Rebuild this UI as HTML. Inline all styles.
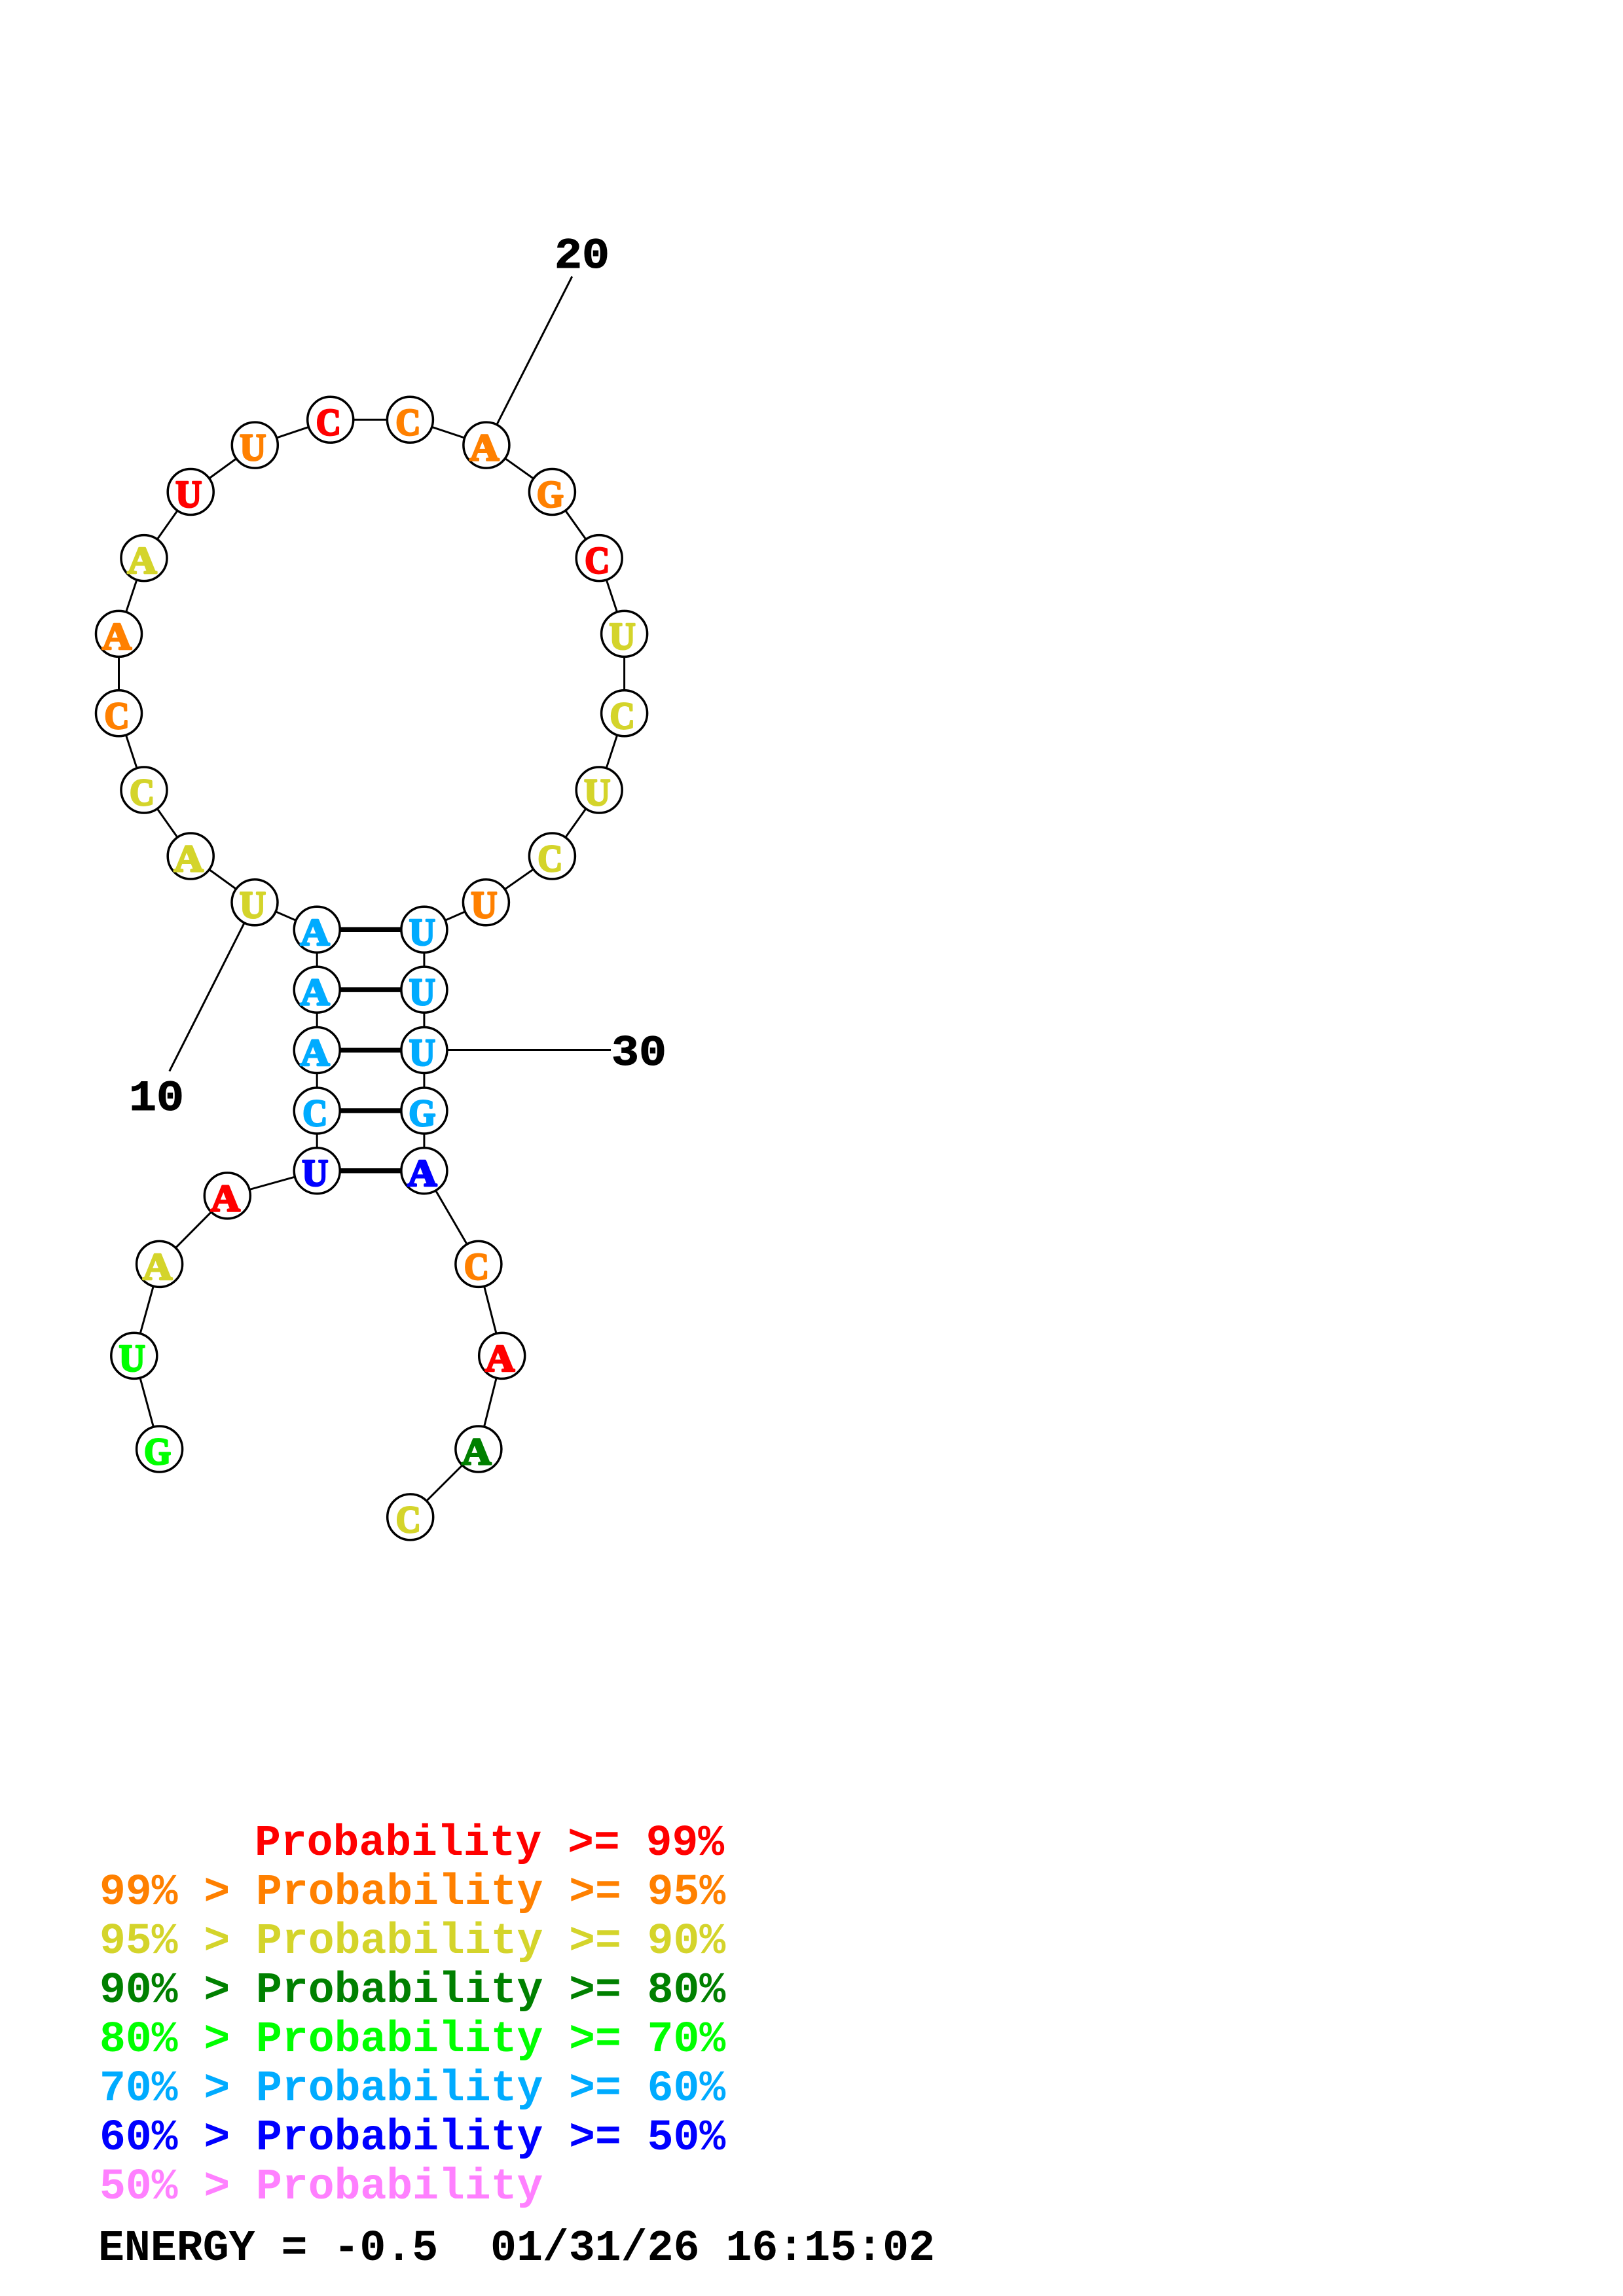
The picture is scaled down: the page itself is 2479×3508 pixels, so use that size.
<!DOCTYPE html>
<html><head><meta charset="utf-8"><style>
html,body{margin:0;padding:0;background:#fff}
svg{display:block}
.b text{font-family:"Liberation Serif",serif;font-weight:bold;font-size:58px;text-anchor:middle;stroke-width:3px;stroke-linejoin:round}
.m text{font-family:"Liberation Mono",monospace;font-weight:bold;font-size:66.4px;stroke:none}
.l text{font-family:"Liberation Mono",monospace;font-weight:bold;font-size:66px;stroke:#000;stroke-width:1px}
.r{fill:#f00;stroke:#f00}.o{fill:#ff8000;stroke:#ff8000}.y{fill:#d4d42b;stroke:#d4d42b}.g{fill:#008000;stroke:#008000}.n{fill:#0f0;stroke:#0f0}.c{fill:#00abff;stroke:#00abff}.u{fill:#00f;stroke:#00f}.p{fill:#ff80ff;stroke:#ff80ff}
</style></head><body>
<svg xmlns="http://www.w3.org/2000/svg" width="2479" height="3508" viewBox="0 0 2479 3508">
<g fill="none" stroke="#000" stroke-width="3">
<polyline points="243.6,2214 204.8,2071.4 243.6,1931.4 347.3,1826.9 484.2,1788.7 484.2,1697 484.2,1604.5 484.2,1512.1 484.2,1420.3 389,1378.8 291.2,1308 220,1207 181.5,1089.8 181.5,968.4 220,852.6 291.2,751.5 389.3,680.1 504.7,641.3 626.4,641.3 742.9,680.1 843.4,751.5 915.2,852.6 953.6,968.4 953.6,1089.8 915.2,1207 843.4,1308 742.4,1378.8 647.9,1420.3 647.9,1512.1 647.9,1604.5 647.9,1697 647.9,1788.7 730.9,1931.4 766.7,2071.4 730.9,2214 626.7,2317.9"/>
<line x1="389" y1="1378.8" x2="258.8" y2="1636.7"/>
<line x1="742.9" y1="680.1" x2="873.8" y2="422.4"/>
<line x1="647.9" y1="1604.5" x2="933" y2="1604.5"/>
</g>
<g stroke="#000" stroke-width="7.5">
<line x1="484.2" y1="1420.3" x2="647.9" y2="1420.3"/>
<line x1="484.2" y1="1512.1" x2="647.9" y2="1512.1"/>
<line x1="484.2" y1="1604.5" x2="647.9" y2="1604.5"/>
<line x1="484.2" y1="1697" x2="647.9" y2="1697"/>
<line x1="484.2" y1="1788.7" x2="647.9" y2="1788.7"/>
</g>
<g fill="#fff" stroke="#000" stroke-width="3.5">
<circle cx="243.6" cy="2214" r="35"/><circle cx="204.8" cy="2071.4" r="35"/><circle cx="243.6" cy="1931.4" r="35"/><circle cx="347.3" cy="1826.9" r="35"/>
<circle cx="484.2" cy="1788.7" r="35"/><circle cx="484.2" cy="1697" r="35"/><circle cx="484.2" cy="1604.5" r="35"/><circle cx="484.2" cy="1512.1" r="35"/><circle cx="484.2" cy="1420.3" r="35"/>
<circle cx="389" cy="1378.8" r="35"/><circle cx="291.2" cy="1308" r="35"/><circle cx="220" cy="1207" r="35"/><circle cx="181.5" cy="1089.8" r="35"/><circle cx="181.5" cy="968.4" r="35"/><circle cx="220" cy="852.6" r="35"/><circle cx="291.2" cy="751.5" r="35"/><circle cx="389.3" cy="680.1" r="35"/><circle cx="504.7" cy="641.3" r="35"/><circle cx="626.4" cy="641.3" r="35"/><circle cx="742.9" cy="680.1" r="35"/><circle cx="843.4" cy="751.5" r="35"/><circle cx="915.2" cy="852.6" r="35"/><circle cx="953.6" cy="968.4" r="35"/><circle cx="953.6" cy="1089.8" r="35"/><circle cx="915.2" cy="1207" r="35"/><circle cx="843.4" cy="1308" r="35"/><circle cx="742.4" cy="1378.8" r="35"/>
<circle cx="647.9" cy="1420.3" r="35"/><circle cx="647.9" cy="1512.1" r="35"/><circle cx="647.9" cy="1604.5" r="35"/><circle cx="647.9" cy="1697" r="35"/><circle cx="647.9" cy="1788.7" r="35"/>
<circle cx="730.9" cy="1931.4" r="35"/><circle cx="766.7" cy="2071.4" r="35"/><circle cx="730.9" cy="2214" r="35"/><circle cx="626.7" cy="2317.9" r="35"/>
</g>
<g class="b" transform="translate(-1,-1.5)">
<text class="n" x="241.6" y="2238.5" textLength="41" lengthAdjust="spacingAndGlyphs">G</text>
<text class="n" x="202.8" y="2095.9" textLength="40" lengthAdjust="spacingAndGlyphs">U</text>
<text class="y" x="241.6" y="1955.9" textLength="45" lengthAdjust="spacingAndGlyphs">A</text>
<text class="r" x="345.3" y="1851.4" textLength="45" lengthAdjust="spacingAndGlyphs">A</text>
<text class="u" x="482.2" y="1813.2" textLength="40" lengthAdjust="spacingAndGlyphs">U</text>
<text class="c" x="482.2" y="1721.5" textLength="38" lengthAdjust="spacingAndGlyphs">C</text>
<text class="c" x="482.2" y="1629" textLength="45" lengthAdjust="spacingAndGlyphs">A</text>
<text class="c" x="482.2" y="1536.6" textLength="45" lengthAdjust="spacingAndGlyphs">A</text>
<text class="c" x="482.2" y="1444.8" textLength="45" lengthAdjust="spacingAndGlyphs">A</text>
<text class="y" x="387" y="1403.3" textLength="40" lengthAdjust="spacingAndGlyphs">U</text>
<text class="y" x="289.2" y="1332.5" textLength="45" lengthAdjust="spacingAndGlyphs">A</text>
<text class="y" x="218" y="1231.5" textLength="38" lengthAdjust="spacingAndGlyphs">C</text>
<text class="o" x="179.5" y="1114.3" textLength="38" lengthAdjust="spacingAndGlyphs">C</text>
<text class="o" x="179.5" y="992.9" textLength="45" lengthAdjust="spacingAndGlyphs">A</text>
<text class="y" x="218" y="877.1" textLength="45" lengthAdjust="spacingAndGlyphs">A</text>
<text class="r" x="289.2" y="776" textLength="40" lengthAdjust="spacingAndGlyphs">U</text>
<text class="o" x="387.3" y="704.6" textLength="40" lengthAdjust="spacingAndGlyphs">U</text>
<text class="r" x="502.7" y="665.8" textLength="38" lengthAdjust="spacingAndGlyphs">C</text>
<text class="o" x="624.4" y="665.8" textLength="38" lengthAdjust="spacingAndGlyphs">C</text>
<text class="o" x="740.9" y="704.6" textLength="45" lengthAdjust="spacingAndGlyphs">A</text>
<text class="o" x="841.4" y="776" textLength="41" lengthAdjust="spacingAndGlyphs">G</text>
<text class="r" x="913.2" y="877.1" textLength="38" lengthAdjust="spacingAndGlyphs">C</text>
<text class="y" x="951.6" y="992.9" textLength="40" lengthAdjust="spacingAndGlyphs">U</text>
<text class="y" x="951.6" y="1114.3" textLength="38" lengthAdjust="spacingAndGlyphs">C</text>
<text class="y" x="913.2" y="1231.5" textLength="40" lengthAdjust="spacingAndGlyphs">U</text>
<text class="y" x="841.4" y="1332.5" textLength="38" lengthAdjust="spacingAndGlyphs">C</text>
<text class="o" x="740.4" y="1403.3" textLength="40" lengthAdjust="spacingAndGlyphs">U</text>
<text class="c" x="645.9" y="1444.8" textLength="40" lengthAdjust="spacingAndGlyphs">U</text>
<text class="c" x="645.9" y="1536.6" textLength="40" lengthAdjust="spacingAndGlyphs">U</text>
<text class="c" x="645.9" y="1629" textLength="40" lengthAdjust="spacingAndGlyphs">U</text>
<text class="c" x="645.9" y="1721.5" textLength="41" lengthAdjust="spacingAndGlyphs">G</text>
<text class="u" x="645.9" y="1813.2" textLength="45" lengthAdjust="spacingAndGlyphs">A</text>
<text class="o" x="728.9" y="1955.9" textLength="38" lengthAdjust="spacingAndGlyphs">C</text>
<text class="r" x="764.7" y="2095.9" textLength="45" lengthAdjust="spacingAndGlyphs">A</text>
<text class="g" x="728.9" y="2238.5" textLength="45" lengthAdjust="spacingAndGlyphs">A</text>
<text class="y" x="624.7" y="2342.4" textLength="38" lengthAdjust="spacingAndGlyphs">C</text>
</g>
<g class="l" fill="#000">
<text x="847" y="409" textLength="84" lengthAdjust="spacingAndGlyphs">20</text>
<text x="197" y="1696" textLength="84" lengthAdjust="spacingAndGlyphs">10</text>
<text x="934" y="1627" textLength="84" lengthAdjust="spacingAndGlyphs">30</text>
</g>
<g class="m">
<text class="r" x="389" y="2834">Probability &gt;= 99%</text>
<text class="o" x="152" y="2909">99% &gt; Probability &gt;= 95%</text>
<text class="y" x="152" y="2984">95% &gt; Probability &gt;= 90%</text>
<text class="g" x="152" y="3059">90% &gt; Probability &gt;= 80%</text>
<text class="n" x="152" y="3134">80% &gt; Probability &gt;= 70%</text>
<text class="c" x="152" y="3209">70% &gt; Probability &gt;= 60%</text>
<text class="u" x="152" y="3284">60% &gt; Probability &gt;= 50%</text>
<text class="p" x="152" y="3359">50% &gt; Probability</text>
<text x="150" y="3453" fill="#000" textLength="1278" lengthAdjust="spacingAndGlyphs">ENERGY = -0.5&#160;&#160;01/31/26 16:15:02</text>
</g>
</svg>
</body></html>
